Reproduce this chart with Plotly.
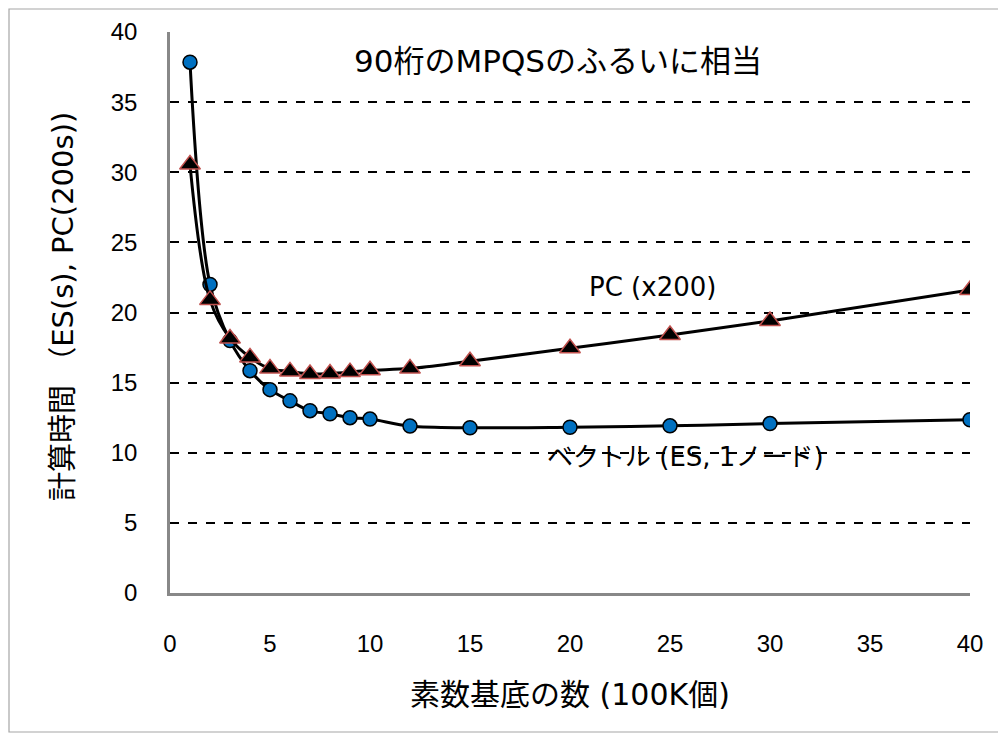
import plotly.graph_objects as go

# Data
x_values = [1, 2, 3, 4, 5, 6, 7, 8, 9, 10, 12, 15, 20, 25, 30, 40]
es_vector = [37.85, 22.0, 18.0, 15.85, 14.5, 13.7, 13.0, 12.78, 12.5, 12.4, 11.9, 11.78, 11.82, 11.92, 12.08, 12.35]
pc_x200 = [30.55, 20.9, 18.15, 16.8, 16.0, 15.8, 15.62, 15.65, 15.75, 15.88, 16.0, 16.52, 17.45, 18.4, 19.4, 21.6]

x_ticks = [0, 5, 10, 15, 20, 25, 30, 35, 40]
y_ticks = [0, 5, 10, 15, 20, 25, 30, 35, 40]

x_title = "素数基底の数 (100K個)"
y_title = "計算時間 （ES(s), PC(200s))"
note_top = "90桁のMPQSのふるいに相当"
label_pc = "PC (x200)"
label_es = "ベクトル (ES, 1ノード)"

JP = "DejaVu Sans, Noto Sans CJK JP"
TICKF = "Liberation Sans, Arial, sans-serif"

fig = go.Figure()
fig.add_trace(go.Scatter(
    x=x_values, y=es_vector, mode="lines+markers",
    line=dict(color="black", width=3, shape="spline", smoothing=1),
    marker=dict(symbol="circle", size=14, color="#0070C0", line=dict(color="black", width=1.5)),
    showlegend=False,
))
fig.add_trace(go.Scatter(
    x=x_values, y=pc_x200, mode="lines+markers",
    line=dict(color="black", width=3, shape="spline", smoothing=1),
    marker=dict(symbol="triangle-up", size=18, color="black", line=dict(color="#C0504D", width=1.5)),
    showlegend=False,
))

fig.add_annotation(x=19.4, y=37.9, text=note_top, showarrow=False,
                   font=dict(family=JP, size=31, color="black"))
fig.add_annotation(x=24.1, y=21.85, text=label_pc, showarrow=False,
                   font=dict(family=JP, size=26, color="black"))
fig.add_annotation(x=25.75, y=9.7, text=label_es, showarrow=False,
                   font=dict(family=JP, size=26, color="black"))

# y-axis title placed as rotated annotation (page px -> paper coords)
fig.add_annotation(xref="paper", yref="paper", x=(63 - 170) / 800, y=(593 - 307) / 561,
                   text=y_title, textangle=-90, showarrow=False, xanchor="center", yanchor="middle",
                   font=dict(family=JP, size=29, color="black"))

# outer chart border (figure starts at page offset 8px)
fig.add_shape(type="rect", xref="paper", yref="paper",
              x0=(1 - 162) / 800, x1=(995 - 162) / 800,
              y0=(585 - 724) / 561, y1=(585 - 1) / 561,
              line=dict(color="#A6A6A6", width=1.2), fillcolor="rgba(0,0,0,0)", layer="below")

fig.update_layout(
    width=998, height=727,
    margin=dict(l=162, r=36, t=24, b=142, autoexpand=False),
    paper_bgcolor="white", plot_bgcolor="white",
    xaxis=dict(
        range=[0, 40], tickvals=x_ticks, ticktext=[str(v) for v in x_ticks],
        showgrid=False, zeroline=False, showline=True, linecolor="#888888", linewidth=2.5,
        ticks="", ticklabelstandoff=27, automargin=False,
        tickfont=dict(family=TICKF, size=24, color="black"),
        title=dict(text=x_title, font=dict(family=JP, size=30, color="black"), standoff=29),
    ),
    yaxis=dict(
        range=[0, 40], tickvals=y_ticks, ticktext=[str(v) for v in y_ticks],
        showgrid=True, gridcolor="black", gridwidth=1.5, griddash="dash",
        zeroline=False, showline=True, linecolor="#888888", linewidth=2.5,
        ticks="", ticklabelstandoff=25, automargin=False,
        tickfont=dict(family=TICKF, size=24, color="black"),
    ),
)

fig.write_html("out.html")
